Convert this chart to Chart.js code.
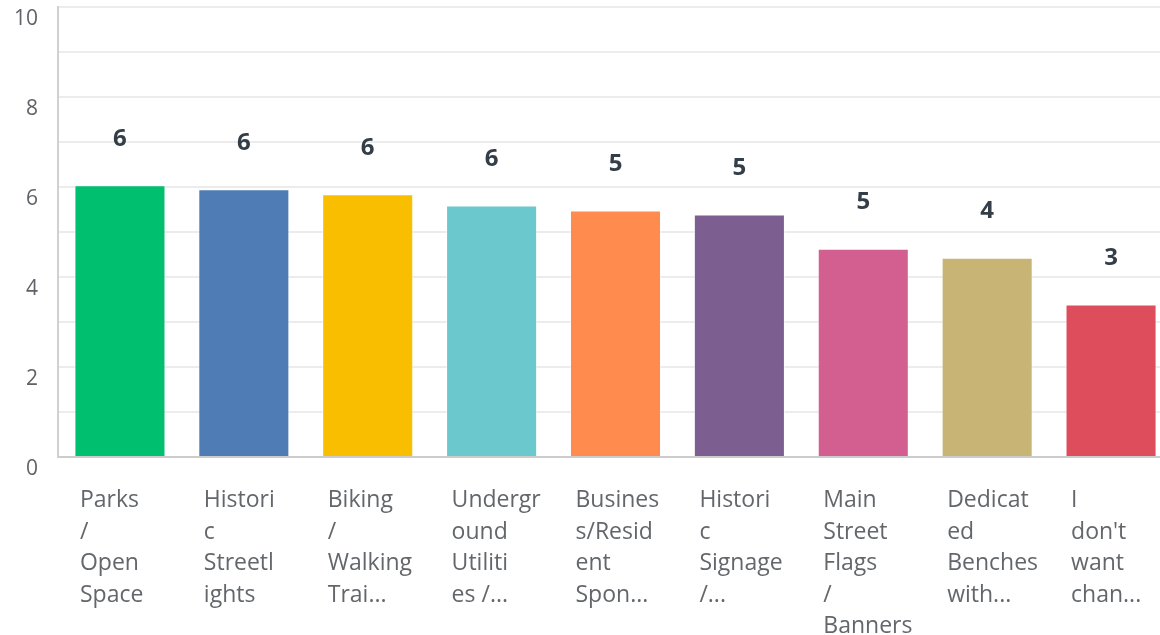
<!DOCTYPE html>
<html>
<head>
<meta charset="utf-8">
<script src="https://cdn.jsdelivr.net/npm/chart.js@4/dist/chart.umd.min.js"></script>
<style>
  html, body { margin: 0; padding: 0; background: #ffffff; overflow: hidden; width: 1160px; height: 635px; }
  #wrap { position: relative; width: 1173px; height: 635px; }
</style>
</head>
<body>
<div id="wrap"><canvas id="c" width="1173" height="635"></canvas></div>
<script>
const categories = [
  ["Parks", "/", "Open", "Space"],
  ["Histori", "c", "Streetl", "ights"],
  ["Biking", "/", "Walking", "Trai..."],
  ["Undergr", "ound", "Utiliti", "es /..."],
  ["Busines", "s/Resid", "ent", "Spon..."],
  ["Histori", "c", "Signage", "/..."],
  ["Main", "Street", "Flags", "/", "Banners"],
  ["Dedicat", "ed", "Benches", "with..."],
  ["I", "don't", "want", "chan..."]
];
const values = [6.04, 5.95, 5.84, 5.59, 5.48, 5.39, 4.63, 4.43, 3.39];
const barColors = ["#00BF6F", "#507CB6", "#F9BE00", "#6BC8CD", "#FF8B4F", "#7D5E90", "#D25F90", "#C8B475", "#DE4D5C"];
const yTickLabels = ["0", "2", "4", "6", "8", "10"];

const valueLabelPlugin = {
  id: 'valueLabels',
  afterDatasetsDraw(chart) {
    const ctx = chart.ctx;
    const meta = chart.getDatasetMeta(0);
    ctx.save();
    ctx.font = 'bold 24px "Open Sans"';
    ctx.fillStyle = '#333e48';
    ctx.textAlign = 'center';
    ctx.textBaseline = 'middle';
    meta.data.forEach((bar, i) => {
      ctx.fillText(String(Math.round(values[i])), bar.x, bar.y - 46);
    });
    ctx.restore();
  }
};

new Chart(document.getElementById('c'), {
  type: 'bar',
  data: {
    labels: categories,
    datasets: [{
      data: values,
      backgroundColor: barColors,
      borderColor: 'rgba(255,255,255,0.6)',
      borderWidth: 1,
      barPercentage: 0.735,
      categoryPercentage: 1.0
    }]
  },
  options: {
    responsive: false,
    animation: false,
    devicePixelRatio: 1,
    layout: { padding: { top: 7, right: 0, left: 0, bottom: 0 } },
    plugins: {
      legend: { display: false },
      tooltip: { enabled: false }
    },
    scales: {
      x: {
        grid: { display: false, drawTicks: false },
        border: { display: true, color: '#cccccc', width: 2 },
        ticks: {
          align: 'start',
          labelOffset: -40,
          padding: 28,
          autoSkip: false,
          maxRotation: 0,
          minRotation: 0,
          color: '#63676b',
          font: { family: '"Open Sans"', size: 23, lineHeight: 1.37 }
        },
        afterFit(scale) {
          scale.height = 178;
          scale.paddingLeft = 0;
          scale.paddingRight = 0;
        }
      },
      y: {
        min: 0,
        max: 10,
        grid: { color: '#ececec', lineWidth: 2, drawTicks: false },
        border: { display: true, color: '#d0d0d0', width: 2 },
        ticks: {
          stepSize: 1,
          padding: 20,
          labelOffset: 12.5,
          color: '#5f6367',
          font: { family: '"Open Sans"', size: 21 },
          callback: (v) => yTickLabels.includes(String(v)) ? String(v) : ''
        },
        afterFit(scale) {
          scale.width = 58;
          scale.paddingTop = 0;
          scale.paddingBottom = 0;
        }
      }
    }
  },
  plugins: [valueLabelPlugin]
});
</script>
</body>
</html>
